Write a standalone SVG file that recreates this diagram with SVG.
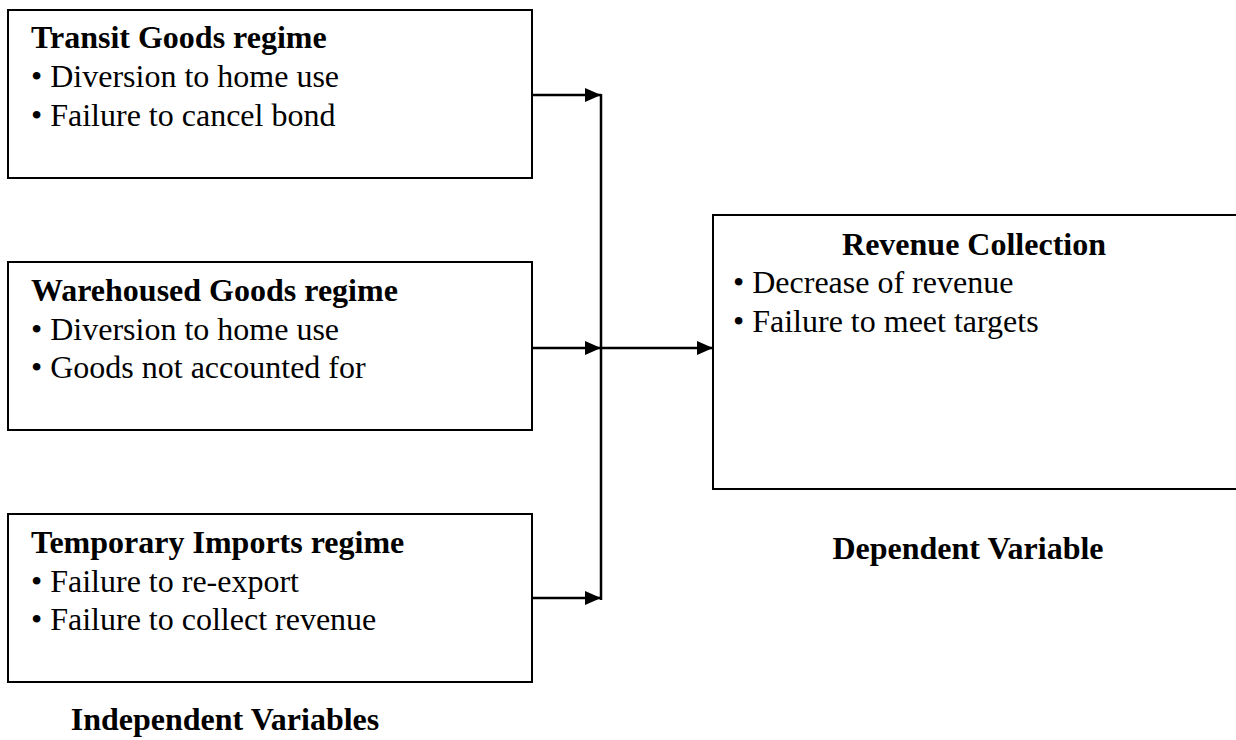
<svg xmlns="http://www.w3.org/2000/svg" width="1236" height="740" viewBox="0 0 1236 740">
<defs>
<style>
.box{fill:#fff;stroke:#000;stroke-width:2}
.t{font-family:"Liberation Serif","Times New Roman",serif;font-size:32px;fill:#000}
.b{font-weight:bold}
.c{stroke:#000;stroke-width:2.5;fill:none}
</style>
<marker id="ah" markerWidth="16" markerHeight="14" refX="16" refY="7" orient="auto" markerUnits="userSpaceOnUse" viewBox="0 0 16 14"><path d="M0,0 L16,7 L0,14 z" fill="#000"/></marker>
</defs>
<rect width="1236" height="740" fill="#fff"/>
<g id="transit">
<rect class="box" x="8" y="10" width="524" height="168"/>
<text class="t b" x="31" y="48">Transit Goods regime</text>
<text class="t" x="31" y="87">• Diversion to home use</text>
<text class="t" x="31" y="126">• Failure to cancel bond</text>
</g>
<g id="warehoused">
<rect class="box" x="8" y="262" width="524" height="168"/>
<text class="t b" x="31" y="301">Warehoused Goods regime</text>
<text class="t" x="31" y="340">• Diversion to home use</text>
<text class="t" x="31" y="378">• Goods not accounted for</text>
</g>
<g id="temporary">
<rect class="box" x="8" y="514" width="524" height="168"/>
<text class="t b" x="31" y="553">Temporary Imports regime</text>
<text class="t" x="31" y="592">• Failure to re-export</text>
<text class="t" x="31" y="630">• Failure to collect revenue</text>
</g>
<g id="revenue">
<rect class="box" x="713" y="215" width="530" height="274"/>
<text class="t b" x="974" y="255" text-anchor="middle">Revenue Collection</text>
<text class="t" x="733" y="293">• Decrease of revenue</text>
<text class="t" x="733" y="332">• Failure to meet targets</text>
</g>
<g id="labels">
<text class="t b" x="225" y="730" text-anchor="middle">Independent Variables</text>
<text class="t b" x="968" y="559" text-anchor="middle">Dependent Variable</text>
</g>
<g id="connectors">
<line class="c" x1="601" y1="94" x2="601" y2="600"/>
<line class="c" x1="532" y1="95" x2="601" y2="95" marker-end="url(#ah)"/>
<line class="c" x1="532" y1="348" x2="601" y2="348" marker-end="url(#ah)"/>
<line class="c" x1="532" y1="598" x2="601" y2="598" marker-end="url(#ah)"/>
<line class="c" x1="601" y1="348" x2="713" y2="348" marker-end="url(#ah)"/>
</g>
</svg>
